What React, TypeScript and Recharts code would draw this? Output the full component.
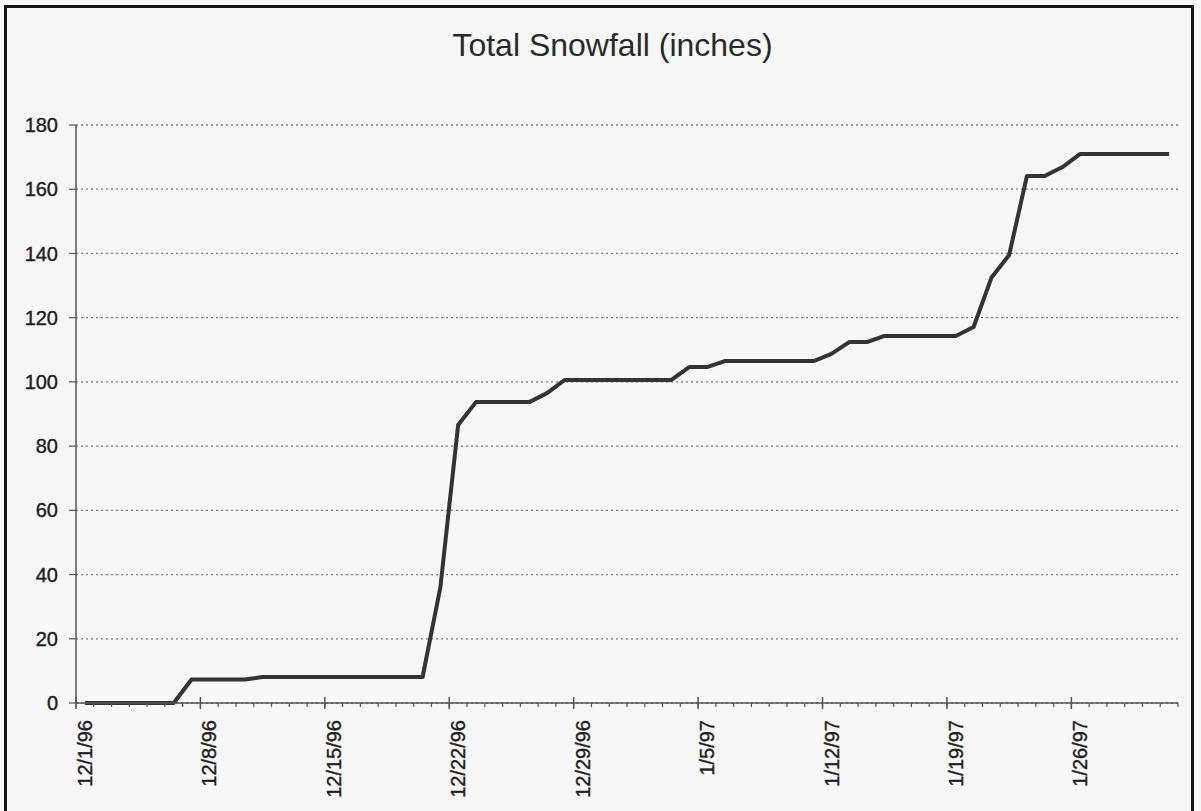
import React from "react";
import { LineChart, Line, XAxis, YAxis, CartesianGrid } from "recharts";

const title = "Total Snowfall (inches)";

// One entry per day, 12/1/96 .. 1/31/97
const dates = [
  "12/1/96","12/2/96","12/3/96","12/4/96","12/5/96","12/6/96","12/7/96",
  "12/8/96","12/9/96","12/10/96","12/11/96","12/12/96","12/13/96","12/14/96",
  "12/15/96","12/16/96","12/17/96","12/18/96","12/19/96","12/20/96","12/21/96",
  "12/22/96","12/23/96","12/24/96","12/25/96","12/26/96","12/27/96","12/28/96",
  "12/29/96","12/30/96","12/31/96","1/1/97","1/2/97","1/3/97","1/4/97",
  "1/5/97","1/6/97","1/7/97","1/8/97","1/9/97","1/10/97","1/11/97",
  "1/12/97","1/13/97","1/14/97","1/15/97","1/16/97","1/17/97","1/18/97",
  "1/19/97","1/20/97","1/21/97","1/22/97","1/23/97","1/24/97","1/25/97",
  "1/26/97","1/27/97","1/28/97","1/29/97","1/30/97","1/31/97",
];

const snowfall = [
  0, 0, 0, 0, 0, 0, 7.3,
  7.3, 7.3, 7.3, 8.1, 8.1, 8.1, 8.1,
  8.1, 8.1, 8.1, 8.1, 8.1, 8.1, 36,
  86.6, 93.7, 93.7, 93.7, 93.7, 96.5, 100.6,
  100.6, 100.6, 100.6, 100.6, 100.6, 100.6, 104.6,
  104.6, 106.5, 106.5, 106.5, 106.5, 106.5, 106.5,
  108.7, 112.4, 112.4, 114.3, 114.3, 114.3, 114.3,
  114.3, 117.1, 132.4, 139.5, 164.1, 164.1, 166.9,
  171, 171, 171, 171, 171, 171,
];

const tickLabels = ["12/1/96", "12/8/96", "12/15/96", "12/22/96", "12/29/96", "1/5/97", "1/12/97", "1/19/97", "1/26/97"];
const yTicks = [0, 20, 40, 60, 80, 100, 120, 140, 160, 180];

const dayBoundaries = Array.from({ length: dates.length + 1 }, (_, i) => i);

// each day is plotted in the middle of its interval
const data = dates.map((d, i) => ({ date: d, pos: i + 0.5, value: snowfall[i] }));

const FONT = "'Liberation Sans', Arial, Helvetica, sans-serif";
const AXIS = "#555";

const XTick = (props: any) => {
  const { x, y, payload } = props;
  const v = payload.value as number;
  const majorIndex = v % 7 === 0 ? v / 7 : -1;
  const label = majorIndex >= 0 && majorIndex < tickLabels.length ? tickLabels[majorIndex] : null;
  const tx = x + 16;
  const ty = y + 17;
  return (
    <g>
      <line x1={x} x2={x} y1={y} y2={y + 4} stroke={AXIS} strokeWidth={1.2} />
      {label && <line x1={x} x2={x} y1={y - 6} y2={y + 6} stroke={AXIS} strokeWidth={1.5} />}
      {label && (
        <text
          x={tx}
          y={ty}
          transform={`rotate(-90, ${tx}, ${ty})`}
          textAnchor="end"
          fontSize={20}
          fontFamily={FONT}
          fill="#1e1e1e"
          stroke="#1e1e1e"
          strokeWidth={0.4}
        >
          {label}
        </text>
      )}
    </g>
  );
};

export default function App() {
  return (
    <div
      style={{
        position: "fixed",
        left: 0,
        top: 0,
        width: 1201,
        height: 811,
        background: "#f7f7f7",
        overflow: "hidden",
      }}
    >
      <div
        style={{
          position: "absolute",
          left: 4,
          top: 5,
          width: 1190,
          height: 830,
          border: "3px solid #151515",
          boxSizing: "border-box",
        }}
      />
      <div
        style={{
          position: "absolute",
          left: 0,
          top: 27,
          width: 1225,
          textAlign: "center",
          fontFamily: FONT,
          fontSize: 32,
          color: "#2a2a2a",
        }}
      >
        {title}
      </div>
      <div style={{ position: "absolute", left: 0, top: 0 }}>
        <LineChart
          width={1201}
          height={811}
          data={data}
          margin={{ top: 125, right: 23, bottom: 0, left: 0 }}
        >
          <CartesianGrid
            vertical={false}
            stroke="#777"
            strokeDasharray="2 3"
            strokeWidth={1.3}
          />
          <XAxis
            type="number"
            dataKey="pos"
            domain={[0, dates.length]}
            ticks={dayBoundaries}
            interval={0}
            height={108}
            tickSize={0}
            tickMargin={0}
            tickLine={false}
            axisLine={{ stroke: AXIS, strokeWidth: 1.5 }}
            tick={<XTick />}
            allowDataOverflow
          />
          <YAxis
            type="number"
            domain={[0, 180]}
            ticks={yTicks}
            interval={0}
            width={76}
            tickSize={7}
            tickMargin={11}
            axisLine={{ stroke: AXIS, strokeWidth: 1.5 }}
            tickLine={{ stroke: AXIS, strokeWidth: 1.2 }}
            tick={{ fontSize: 20, fontFamily: FONT, fill: "#1e1e1e", stroke: "#1e1e1e", strokeWidth: 0.4 }}
          />
          <Line
            type="linear"
            dataKey="value"
            stroke="#333"
            strokeWidth={4}
            dot={false}
            strokeLinejoin="round"
            isAnimationActive={false}
          />
        </LineChart>
      </div>
    </div>
  );
}
